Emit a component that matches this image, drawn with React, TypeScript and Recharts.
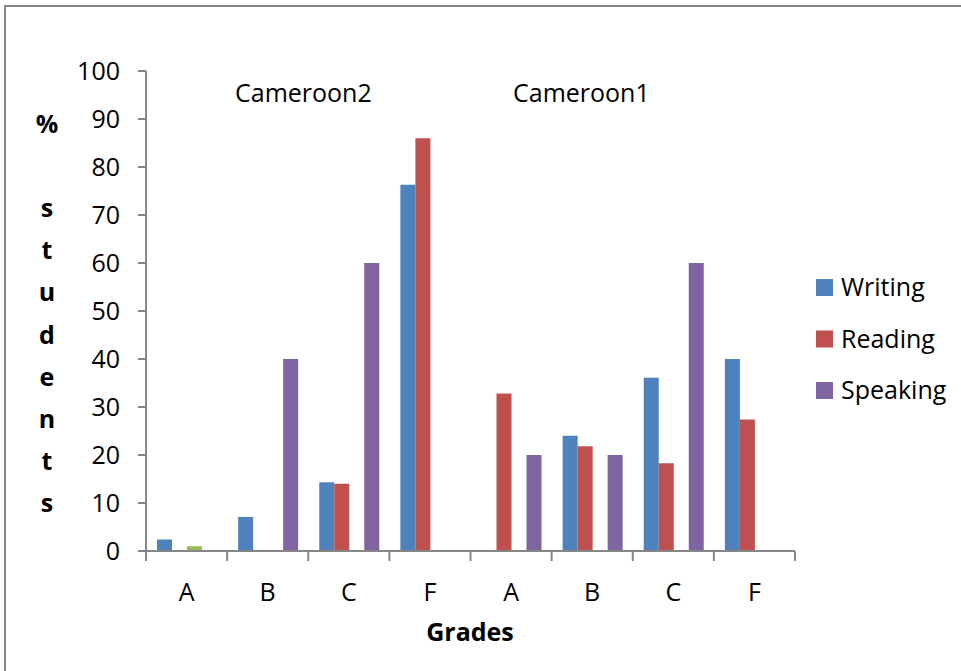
import { BarChart, Bar, XAxis, YAxis } from 'recharts';

const grades = ['A', 'B', 'C', 'F', 'A', 'B', 'C', 'F'];
const writing = [2.4, 7.1, 14.3, 76.3, null, 24.0, 36.1, 40];
const reading = [null, null, 14.0, 86, 32.8, 21.8, 18.3, 27.4];
const other = [1, null, null, null, null, null, null, null];
const speaking = [null, 40, 60, null, 20, 20, 60, null];
const yTicks = [0, 10, 20, 30, 40, 50, 60, 70, 80, 90, 100];
const groupLabels = ['Cameroon2', 'Cameroon1'];
const yTitle = ['%', '', 's', 't', 'u', 'd', 'e', 'n', 't', 's'];

const series = [
  { key: 'writing', name: 'Writing', color: '#4F81BD', legend: true },
  { key: 'reading', name: 'Reading', color: '#C0504D', legend: true },
  { key: 'other', name: 'Other', color: '#9BBB59', legend: false },
  { key: 'speaking', name: 'Speaking', color: '#8064A2', legend: true },
];

const data = grades.map((g, i) => ({
  grade: g,
  writing: writing[i],
  reading: reading[i],
  other: other[i],
  speaking: speaking[i],
}));

const FONT = "'Open Sans', sans-serif";
const AXIS = '#868686';
const X_TICK_SIZE = 10;
const X_TICK_MARGIN = 22;

function GradeTick(props: any) {
  const { x, y, payload, index, visibleTicksCount } = props;
  const half = payload && payload.offset ? payload.offset : 0;
  const axisY = y - X_TICK_SIZE - X_TICK_MARGIN;
  return (
    <g>
      <line x1={x - half} x2={x - half} y1={axisY} y2={axisY + X_TICK_SIZE} stroke={AXIS} strokeWidth={2} />
      {index === visibleTicksCount - 1 && (
        <line x1={x + half} x2={x + half} y1={axisY} y2={axisY + X_TICK_SIZE} stroke={AXIS} strokeWidth={2} />
      )}
      <text x={x} y={y} dy="0.71em" textAnchor="middle" fill="#000" fontSize={25} fontFamily={FONT}>
        {payload.value}
      </text>
    </g>
  );
}

export default function App() {
  const legendItems = series.filter((s) => s.legend);
  return (
    <div style={{ position: 'absolute', left: 0, top: 0, width: 961, height: 671, overflow: 'hidden', background: '#fff' }}>
      <div
        style={{
          position: 'absolute',
          left: 4,
          top: 5,
          width: 1000,
          height: 700,
          border: `2px solid ${AXIS}`,
          boxSizing: 'border-box',
        }}
      />
      <div style={{ position: 'absolute', left: 0, top: 0 }}>
        <BarChart
          width={961}
          height={671}
          data={data}
          margin={{ top: 71, right: 166, bottom: 90, left: 0 }}
          barCategoryGap={11}
          barGap={0}
        >
          <XAxis
            dataKey="grade"
            height={30}
            interval={0}
            tickLine={false}
            tickSize={X_TICK_SIZE}
            tickMargin={X_TICK_MARGIN}
            axisLine={{ stroke: AXIS, strokeWidth: 2 }}
            tick={<GradeTick />}
          />
          <YAxis
            width={146}
            domain={[0, 100]}
            ticks={yTicks}
            interval={0}
            tickSize={8}
            tickMargin={18}
            axisLine={{ stroke: AXIS, strokeWidth: 2 }}
            tickLine={{ stroke: AXIS, strokeWidth: 2 }}
            tick={{ fill: '#000', fontSize: 25, fontFamily: FONT }}
          />
          {series.map((s) => (
            <Bar key={s.key} dataKey={s.key} name={s.name} fill={s.color} isAnimationActive={false} />
          ))}
        </BarChart>
      </div>
      <svg width={961} height={671} style={{ position: 'absolute', left: 0, top: 0, pointerEvents: 'none' }}>
        <g fontFamily={FONT} fontSize={25} fill="#000">
          <text x={235} y={102}>{groupLabels[0]}</text>
          <text x={513} y={102}>{groupLabels[1]}</text>
          {yTitle.map((ch, i) => (
            <text key={i} x={47} y={133 + 42.1 * i} textAnchor="middle" fontWeight="bold">
              {ch}
            </text>
          ))}
          <text x={470} y={641} textAnchor="middle" fontWeight="bold">
            Grades
          </text>
          {legendItems.map((s, i) => (
            <g key={s.key}>
              <rect x={816} y={279 + 51.5 * i} width={17} height={17} fill={s.color} />
              <text x={841} y={296 + 51.7 * i}>{s.name}</text>
            </g>
          ))}
        </g>
      </svg>
    </div>
  );
}
